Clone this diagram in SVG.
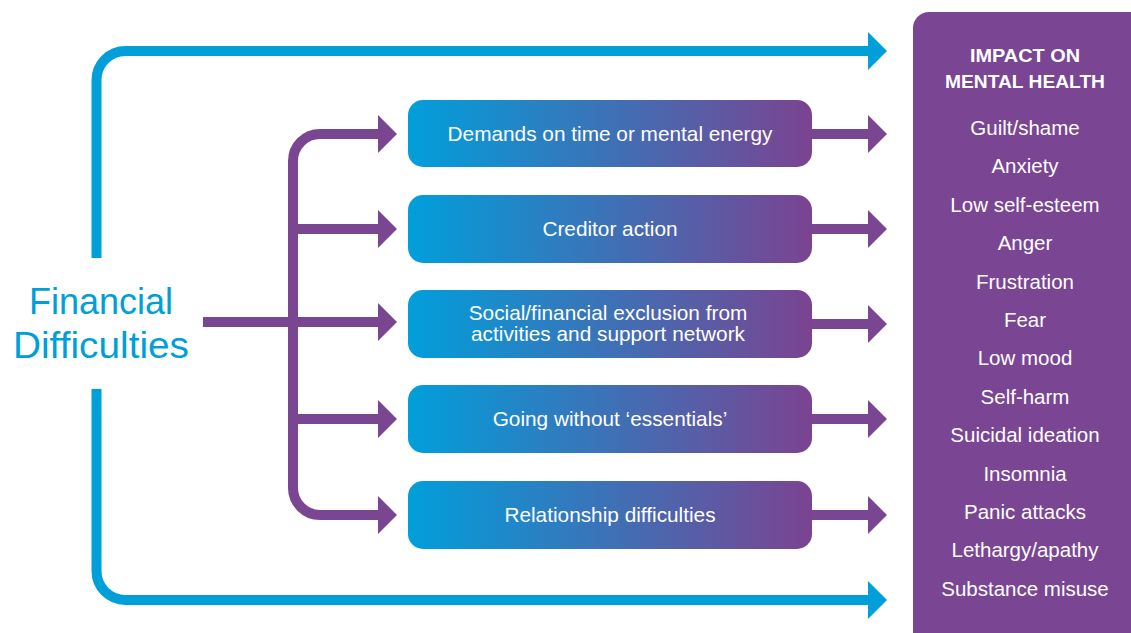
<svg xmlns="http://www.w3.org/2000/svg" width="1131" height="633" viewBox="0 0 1131 633">
<defs>
<linearGradient id="g" x1="0" y1="0" x2="1" y2="0">
<stop offset="0" stop-color="#009fdb"/>
<stop offset="1" stop-color="#7b4391"/>
</linearGradient>
<style>
.blue{fill:none;stroke:#009fda;stroke-width:10}
.pur{fill:none;stroke:#7a4692;stroke-width:10}
.bh{fill:#009fda}
.ph{fill:#7a4692}
.box{fill:url(#g)}
.bt{font-family:"Liberation Sans",Arial,sans-serif;font-size:20.8px;fill:#ffffff;text-anchor:middle}
.it{font-family:"Liberation Sans",Arial,sans-serif;font-size:20.5px;fill:#ffffff;text-anchor:middle}
.hd{font-family:"Liberation Sans",Arial,sans-serif;font-size:19px;font-weight:bold;fill:#ffffff;text-anchor:middle}
.fd{font-family:"Liberation Sans",Arial,sans-serif;font-size:36px;fill:#009fda;text-anchor:middle}
</style>
</defs>
<rect width="1131" height="633" fill="#ffffff"/>
<g id="connectors">
<path class="blue" d="M96.5,258 V80 A29,29 0 0 1 125.5,51 H870"/>
<polygon class="bh" points="868,32 887,51 868,70"/>
<path class="blue" d="M96.5,389 V571 A29,29 0 0 0 125.5,600 H870"/>
<polygon class="bh" points="868,581 887,600 868,619"/>
<path class="pur" d="M203,322 H380"/>
<polygon class="ph" points="378,303 397,322 378,341"/>
<path class="pur" d="M380,134 H320 A27,27 0 0 0 293,161 V488 A27,27 0 0 0 320,515 H380"/>
<polygon class="ph" points="378,115 397,134 378,153"/>
<polygon class="ph" points="378,496 397,515 378,534"/>
<path class="pur" d="M293,229 H380 M293,419 H380"/>
<polygon class="ph" points="378,210 397,229 378,248"/>
<polygon class="ph" points="378,400 397,419 378,438"/>
<path class="pur" d="M810,134 H870 M810,229 H870 M810,324 H870 M810,419 H870 M810,515 H870"/>
<polygon class="ph" points="868,115 887,134 868,153"/>
<polygon class="ph" points="868,210 887,229 868,248"/>
<polygon class="ph" points="868,305 887,324 868,343"/>
<polygon class="ph" points="868,400 887,419 868,438"/>
<polygon class="ph" points="868,496 887,515 868,534"/>
</g>
<g id="financial">
<text class="fd" x="101" y="314">Financial</text>
<text class="fd" x="101" y="358" textLength="176" lengthAdjust="spacingAndGlyphs">Difficulties</text>
</g>
<g id="box1">
<rect class="box" x="408" y="100" width="404" height="67" rx="15"/>
<text class="bt" x="610" y="141">Demands on time or mental energy</text>
</g>
<g id="box2">
<rect class="box" x="408" y="195" width="404" height="68" rx="15"/>
<text class="bt" x="610" y="236">Creditor action</text>
</g>
<g id="box3">
<rect class="box" x="408" y="290" width="404" height="68" rx="15"/>
<text class="bt" x="608" y="320">Social/financial exclusion from</text>
<text class="bt" x="608" y="341">activities and support network</text>
</g>
<g id="box4">
<rect class="box" x="408" y="385" width="404" height="68" rx="15"/>
<text class="bt" x="610" y="426">Going without ‘essentials’</text>
</g>
<g id="box5">
<rect class="box" x="408" y="481" width="404" height="68" rx="15"/>
<text class="bt" x="610" y="522">Relationship difficulties</text>
</g>
<g id="impact">
<rect x="913" y="12" width="240" height="640" rx="16" fill="#7a4592"/>
<text class="hd" x="1025" y="62" textLength="110" lengthAdjust="spacingAndGlyphs">IMPACT ON</text>
<text class="hd" x="1025" y="88" textLength="160" lengthAdjust="spacingAndGlyphs">MENTAL HEALTH</text>
<text class="it" x="1025" y="135">Guilt/shame</text>
<text class="it" x="1025" y="173.4">Anxiety</text>
<text class="it" x="1025" y="211.8">Low self-esteem</text>
<text class="it" x="1025" y="250.2">Anger</text>
<text class="it" x="1025" y="288.6">Frustration</text>
<text class="it" x="1025" y="327">Fear</text>
<text class="it" x="1025" y="365.4">Low mood</text>
<text class="it" x="1025" y="403.8">Self-harm</text>
<text class="it" x="1025" y="442.2">Suicidal ideation</text>
<text class="it" x="1025" y="480.6">Insomnia</text>
<text class="it" x="1025" y="519">Panic attacks</text>
<text class="it" x="1025" y="557.4">Lethargy/apathy</text>
<text class="it" x="1025" y="595.8">Substance misuse</text>
</g>
</svg>
